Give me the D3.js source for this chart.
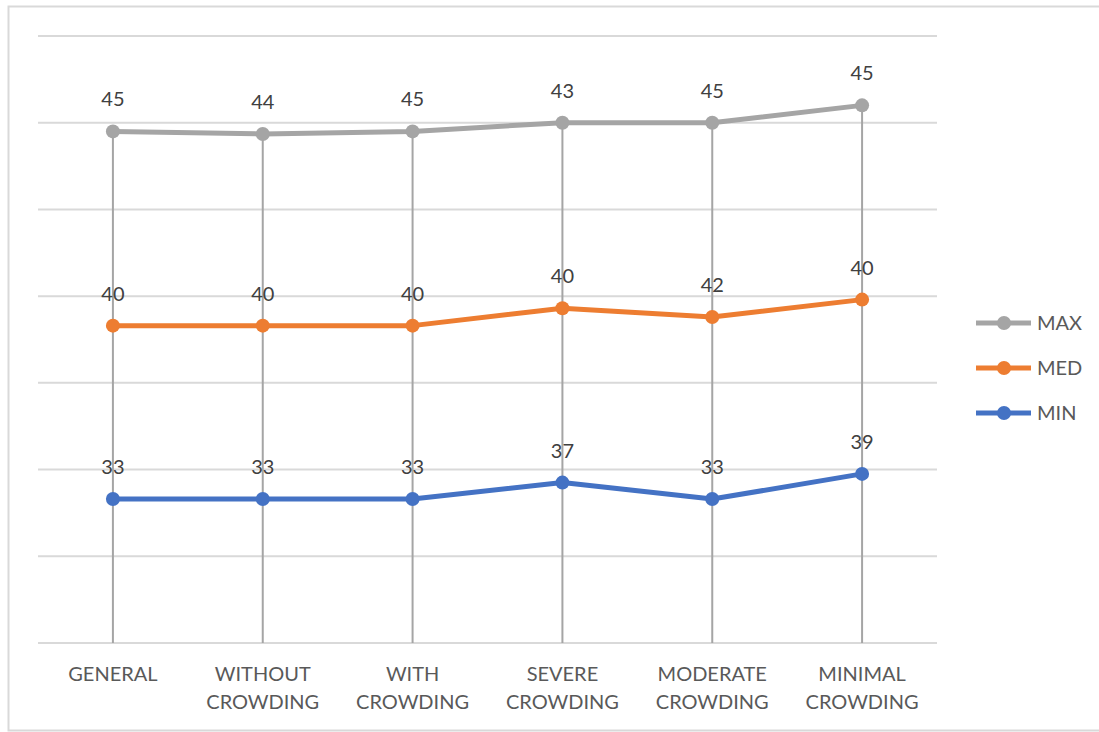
<!DOCTYPE html>
<html>
<head>
<meta charset="utf-8">
<script src="https://cdn.jsdelivr.net/npm/d3@7"></script>
<style>
  body { margin: 0; background: #fff; }
  text { font-family: Lato, "Liberation Sans", sans-serif; }
</style>
</head>
<body>
<div id="chart"></div>
<script>
// categories (two lines each)
var categories = ["GENERAL", "WITHOUT CROWDING", "WITH CROWDING", "SEVERE CROWDING", "MODERATE CROWDING", "MINIMAL CROWDING"];
var categoryLines = [["GENERAL"], ["WITHOUT", "CROWDING"], ["WITH", "CROWDING"], ["SEVERE", "CROWDING"], ["MODERATE", "CROWDING"], ["MINIMAL", "CROWDING"]];

// plotted values (as placed in the picture)
var maxValues = [59.0, 58.7, 59.0, 60.0, 60.0, 62.0];
var medValues = [36.6, 36.6, 36.6, 38.6, 37.6, 39.6];
var minValues = [16.6, 16.6, 16.6, 18.5, 16.6, 19.5];

// data labels as printed in the picture
var maxLabels = ["45", "44", "45", "43", "45", "45"];
var medLabels = ["40", "40", "40", "40", "42", "40"];
var minLabels = ["33", "33", "33", "37", "33", "39"];

var yTicks = [0, 10, 20, 30, 40, 50, 60, 70];

var series = [
    {name: "MAX", values: maxValues, labels: maxLabels, color: "#a5a5a5"},
    {name: "MED", values: medValues, labels: medLabels, color: "#ed7d31"},
    {name: "MIN", values: minValues, labels: minLabels, color: "#4472c4"}
];

var W = 1099, H = 732;
var plot = {left: 38, right: 937, top: 36, bottom: 643};

var svg = d3.select("#chart").append("svg")
    .attr("width", W)
    .attr("height", H);

// chart border
svg.append("rect")
    .attr("x", 8.5).attr("y", 6.5)
    .attr("width", W + 20).attr("height", 724)
    .attr("fill", "#fff")
    .attr("stroke", "#d9d9d9")
    .attr("stroke-width", 2);

var x = d3.scalePoint().domain(categories).range([plot.left, plot.right]).padding(0.5);
var y = d3.scaleLinear().domain([0, 70]).range([plot.bottom, plot.top]);

// gridlines
svg.append("g").selectAll("line")
    .data(yTicks)
    .enter().append("line")
    .attr("x1", plot.left).attr("x2", plot.right)
    .attr("y1", function (d) { return y(d); })
    .attr("y2", function (d) { return y(d); })
    .attr("stroke", "#d9d9d9")
    .attr("stroke-width", 2);

// drop lines
svg.append("g").selectAll("line")
    .data(categories)
    .enter().append("line")
    .attr("x1", function (d) { return x(d); })
    .attr("x2", function (d) { return x(d); })
    .attr("y1", function (d, i) { return y(d3.max(series, function (s) { return s.values[i]; })); })
    .attr("y2", y(0))
    .attr("stroke", "#a5a5a5")
    .attr("stroke-width", 2);

// x axis labels
var xl = svg.append("g").selectAll("text")
    .data(categories)
    .enter().append("text")
    .attr("text-anchor", "middle")
    .attr("fill", "#595959")
    .attr("font-size", 20)
    .attr("y", 681);
xl.each(function (d, i) {
    var t = d3.select(this);
    categoryLines[i].forEach(function (line, k) {
        t.append("tspan")
            .attr("x", x(d))
            .attr("dy", k === 0 ? 0 : 28)
            .text(line);
    });
});

var line = d3.line()
    .x(function (d, i) { return x(categories[i]); })
    .y(function (d) { return y(d); });

series.forEach(function (s) {
    var g = svg.append("g");
    g.append("path")
        .attr("d", line(s.values))
        .attr("fill", "none")
        .attr("stroke", s.color)
        .attr("stroke-width", 5)
        .attr("stroke-linejoin", "round");
    g.selectAll("circle")
        .data(s.values)
        .enter().append("circle")
        .attr("cx", function (d, i) { return x(categories[i]); })
        .attr("cy", function (d) { return y(d); })
        .attr("r", 7)
        .attr("fill", s.color);
    g.selectAll("text")
        .data(s.values)
        .enter().append("text")
        .attr("x", function (d, i) { return x(categories[i]); })
        .attr("y", function (d) { return y(d) - 25; })
        .attr("text-anchor", "middle")
        .attr("font-size", 20)
        .attr("fill", "#404040")
        .text(function (d, i) { return s.labels[i]; });
});

// legend
var legend = svg.append("g").selectAll("g")
    .data(series)
    .enter().append("g")
    .attr("transform", function (d, i) { return "translate(976," + (323 + i * 45) + ")"; });
legend.append("line")
    .attr("x1", 0).attr("x2", 55)
    .attr("stroke", function (d) { return d.color; })
    .attr("stroke-width", 5);
legend.append("circle")
    .attr("cx", 28).attr("r", 7)
    .attr("fill", function (d) { return d.color; });
legend.append("text")
    .attr("x", 61).attr("y", 7)
    .attr("font-size", 20)
    .attr("fill", "#595959")
    .text(function (d) { return d.name; });
</script>
</body>
</html>
